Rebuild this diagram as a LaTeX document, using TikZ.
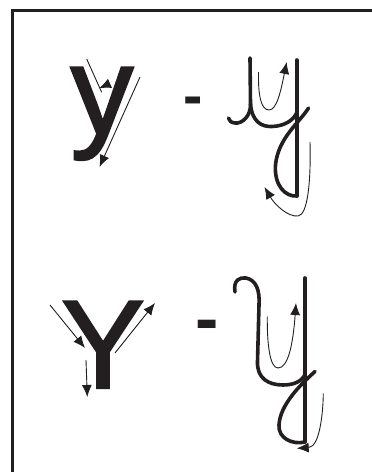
\documentclass[tikz,border=0pt]{standalone}
\usepackage{fontspec}
\setmainfont{Liberation Sans}
\newfontfamily\printfont[FakeBold=1.6]{Liberation Sans}
\usetikzlibrary{arrows.meta}
\definecolor{ink}{RGB}{35,31,32}
\begin{document}
\begin{tikzpicture}[x=1pt, y=-1pt,
    letter/.style={inner sep=0pt, anchor=base, text=ink, font=\fontsize{126}{126}\printfont},
    hyphen/.style={inner sep=0pt, anchor=base, text=ink, font=\fontsize{58}{58}\bfseries\selectfont},
    pen/.style={draw=ink, line width=3.6pt, line cap=round, line join=round},
    guide/.style={draw=ink, line width=0.9pt, -{Latex[length=12pt,width=10pt]}}]
\useasboundingbox (0,0) rectangle (372,472);
\draw[ink, line width=2.5pt] (12.5,472) -- (12.5,10.3) -- (372,10.3);

% printed y and its strokes
\node[letter] (ysmall) at (102,134) {y};
\draw[ink, line width=0.9pt] (86.7,59) -- (101.7,92.3);
\draw[guide] (109,83.8) -- (99,88.3);
\draw[guide] (140,77) -- (99.5,167);
\node[hyphen] (dashtop) at (193,115) {-};

% handwritten y
\draw[pen] (250,58) -- (250.5,104) .. controls (251,116) and (242,124) .. (235,123) .. controls (231,122.5) and (229,121) .. (228.5,118);
\draw[pen] (250.5,104) .. controls (252,122) and (262,127) .. (272,126.5) .. controls (285,126) and (294,120) .. (297,112);
\draw[pen] (297,60) -- (297,196);
\draw[pen] (308.5,108) .. controls (300,122) and (278,138) .. (275.5,165) .. controls (274,185) and (285,197) .. (297,196);
\draw[guide] (258.5,72) .. controls (258,95) and (261,110) .. (269,110) .. controls (277,110) and (281,90) .. (286.7,62);
\draw[guide] (310,142) .. controls (311,180) and (308,215) .. (298,216) .. controls (288,217) and (275,205) .. (264.5,187);

% printed Y and its strokes
\node[letter] (ybig) at (103,388) {Y};
\draw[guide] (50,305) -- (85,348);
\draw[guide] (86,360) -- (87.3,397);
\draw[guide] (115,353) -- (155,303);
\node[hyphen, font=\fontsize{70}{70}\bfseries\selectfont] (dashbottom) at (207,342.5) {-};

% handwritten Y
\draw[pen] (235,292) .. controls (233,280) and (240,277) .. (246,278) .. controls (256,280) and (260,290) .. (259,305) -- (257.5,362) .. controls (257,378) and (268,385) .. (283,385) .. controls (296,385) and (302,380) .. (305,375);
\draw[pen] (305,278) -- (305,442);
\draw[pen] (315,371.5) .. controls (300,385) and (280,405) .. (279,425) .. controls (278,438) and (292,445) .. (305,442);
\draw[guide] (267.3,316.7) .. controls (267,345) and (270,368) .. (278,368) .. controls (288,368) and (293,345) .. (296,303);
\draw[guide] (323.3,393.3) .. controls (323,420) and (318,446) .. (310,447) .. controls (306,448) and (302,448) .. (296.7,448.3);
\end{tikzpicture}
\end{document}
